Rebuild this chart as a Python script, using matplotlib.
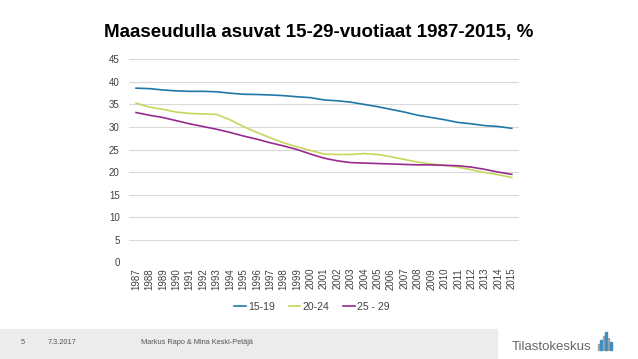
import matplotlib.pyplot as plt
from matplotlib.patches import Rectangle

plt.rcParams['font.family'] = ['Liberation Sans', 'DejaVu Sans']

# data
vuodet = [str(v) for v in range(1987, 2016)]
ika_15_19 = [38.6, 38.5, 38.2, 38.0, 37.9, 37.9, 37.8, 37.5, 37.25, 37.2,
             37.1, 36.95, 36.7, 36.5, 36.0, 35.8, 35.5, 35.0, 34.5, 33.9,
             33.3, 32.6, 32.1, 31.6, 31.0, 30.7, 30.3, 30.1, 29.7]
ika_20_24 = [35.3, 34.4, 33.9, 33.3, 33.0, 32.9, 32.8, 31.6, 30.1, 28.8,
             27.6, 26.5, 25.6, 24.8, 24.0, 23.9, 23.9, 24.1, 23.9, 23.4,
             22.8, 22.2, 21.8, 21.5, 21.1, 20.5, 19.9, 19.4, 18.8]
ika_25_29 = [33.2, 32.6, 32.1, 31.4, 30.7, 30.1, 29.5, 28.8, 28.0, 27.3,
             26.5, 25.8, 25.0, 24.0, 23.1, 22.5, 22.1, 22.0, 21.9, 21.8,
             21.7, 21.6, 21.6, 21.5, 21.4, 21.1, 20.6, 20.0, 19.5]
sarjat = ['15-19', '20-24', '25 - 29']
varit = ['#1f78a8', '#c9d65c', '#962a8e']

fig = plt.figure(figsize=(6.38, 3.59), dpi=100)
ax = fig.add_axes([0.2027, 0.2693, 0.610, 0.5655])

x = range(len(vuodet))
for y, nimi, c in zip([ika_15_19, ika_20_24, ika_25_29], sarjat, varit):
    ax.plot(x, y, color=c, lw=1.2, label=nimi)

ax.set_xlim(-0.5, len(vuodet) - 0.5)
ax.set_ylim(0, 45)
ax.set_yticks(range(0, 46, 5))
ax.set_xticks(list(x))
ax.set_xticklabels(vuodet, rotation=90, fontsize=7, color='#404040')
ax.tick_params(axis='y', labelsize=7, labelcolor='#404040', length=0, pad=7)
ax.tick_params(axis='x', length=0, pad=4)
ax.grid(axis='y', color='#d9d9d9', lw=0.8)
ax.set_axisbelow(True)
for s in ax.spines.values():
    s.set_visible(False)

fig.text(0.5, 0.91, 'Maaseudulla asuvat 15-29-vuotiaat 1987-2015, %',
         ha='center', va='center', fontsize=13.5, fontweight='bold')

fig.legend(loc='center', bbox_to_anchor=(312 / 638, 1 - 307 / 359), ncol=3,
           frameon=False, fontsize=7.5, handlelength=1.1, columnspacing=1.3,
           handletextpad=0.25, labelcolor='#404040')

# footer
fig.add_artist(Rectangle((0, 0), 497 / 638, 30 / 359, transform=fig.transFigure,
                         color='#ececec', zorder=0))
fig.text(21 / 638, 1 - 342 / 359, '5', fontsize=5.3, color='#555555', va='center')
fig.text(48 / 638, 1 - 342 / 359, '7.3.2017', fontsize=5.3, color='#555555', va='center')
fig.text(141 / 638, 1 - 342 / 359, 'Markus Rapo & Mina Keski-Petäjä', fontsize=5.3,
         color='#555555', va='center')
fig.text(512 / 638, 1 - 347 / 359, 'Tilastokeskus', fontsize=9.5, color='#666666',
         va='center')
logo_h = [6, 10, 14, 18, 12, 8]
for i, h in enumerate(logo_h):
    fig.add_artist(Rectangle(((598 + i * 2.4) / 638, (359 - 350) / 359), 1.5 / 638,
                             h / 359, transform=fig.transFigure,
                             color='#3a8fc0' if i % 2 else '#9aa4ad'))

fig.savefig('out.png', dpi=100)
